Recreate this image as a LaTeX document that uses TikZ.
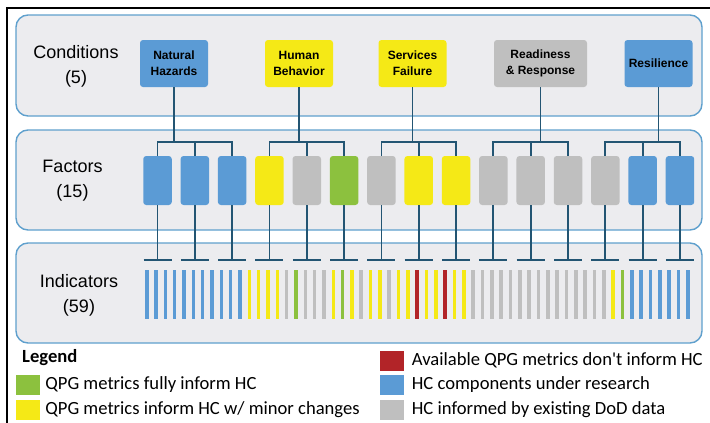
\documentclass[tikz,border=0pt]{standalone}
\usepackage{fontspec}
\setmainfont{Liberation Sans}
\newfontfamily\legendfont{Carlito}
\usetikzlibrary{positioning}

\definecolor{hcblue}{RGB}{91,155,213}
\definecolor{hcyellow}{RGB}{245,233,22}
\definecolor{hcgray}{RGB}{191,191,191}
\definecolor{hcgreen}{RGB}{140,193,62}
\definecolor{hcred}{RGB}{178,36,40}
\definecolor{panelfill}{RGB}{236,236,239}
\definecolor{panelline}{RGB}{95,160,205}
\definecolor{linkcol}{RGB}{35,85,115}

\tikzset{
  panel/.style={draw=panelline, fill=panelfill, line width=1.4, rounded corners=12},
  rowlabel/.style={align=center, inner sep=0, font=\fontsize{18}{25}\selectfont},
  condbox/.style={rounded corners=3, minimum width=68, minimum height=47, inner sep=2,
    align=center, font=\bfseries\fontsize{12}{16}\selectfont},
  factorbox/.style={rounded corners=3, minimum width=28.5, minimum height=49, inner sep=0},
  link/.style={draw=linkcol, line width=1.8},
  swatch/.style={minimum width=24, minimum height=20, inner sep=0},
  legendtext/.style={inner sep=0, font=\legendfont\fontsize{18.6}{22}\selectfont}
}

\begin{document}
\begin{tikzpicture}[x=1pt,y=-1pt]
  \useasboundingbox (0,0) rectangle (710,423);
  % Frame
  \draw[line width=1.2] (710,8) -- (7,8) -- (7,423);

  % Panels
  \draw[panel] (16,15) rectangle (702,116);
  \draw[panel] (16,130) rectangle (702,230);
  \draw[panel] (16,243) rectangle (702,343);

  % Row labels
  \node[rowlabel] (condlbl) at (76,66) {Conditions\\(5)};
  \node[rowlabel] (factlbl) at (72.5,180.5) {Factors\\(15)};
  \node[rowlabel] (indlbl) at (79,295) {Indicators\\(59)};

  % Conditions
  \node[condbox, fill=hcblue] (natural) at (174,63.5) {Natural\\Hazards};
  \node[condbox, fill=hcyellow] (human) at (299,63.5) {Human\\Behavior};
  \node[condbox, fill=hcyellow] (services) at (412.5,63.5) {Services\\Failure};
  \node[condbox, fill=hcgray, minimum width=93] (readiness) at (540.5,63.5) {Readiness\\\& Response};
  \node[condbox, fill=hcblue] (resilience) at (658.5,63.5) {Resilience};

  % Factors
  \foreach \col [count=\i] in {hcblue,hcblue,hcblue,hcyellow,hcgray,hcgreen,hcgray,hcyellow,
      hcyellow,hcgray,hcgray,hcgray,hcgray,hcblue,hcblue}
    \node[factorbox, fill=\col] (f\i) at ({157.5+37.32*(\i-1)},180.5) {};

  % Condition -> factor links
  \coordinate (cbus) at (0,142);
  \coordinate (ibus) at (0,260);
  \foreach \c/\a/\m/\b in {natural/1/2/3, human/4/5/6, services/7/8/9,
      readiness/10/11/12, resilience/13/14/15} {
    \draw[link] (\c.south) -- (\c.south |- cbus);
    \draw[link] (f\a.north) -- (f\a.north |- cbus) -- (f\b.north |- cbus) -- (f\b.north);
    \draw[link] (f\m.north |- cbus) -- (f\m.north);
  }

  % Factor -> indicator links
  \foreach \i in {1,...,15} {
    \draw[link] (f\i.south) -- (f\i.south |- ibus);
    \draw[link] (f\i.south |- ibus) ++(-14,0) -- ++(28,0);
  }

  % Indicators
  \foreach \s/\e/\col in {0/10/hcblue, 11/14/hcyellow, 15/15/hcgray, 16/16/hcgreen,
      17/19/hcgray, 20/20/hcyellow, 21/21/hcgreen, 22/22/hcyellow, 23/23/hcgray,
      24/25/hcyellow, 26/26/hcgray, 27/28/hcyellow, 29/29/hcred, 30/31/hcyellow,
      32/32/hcred, 33/34/hcyellow, 35/49/hcgray, 50/50/hcyellow, 51/51/hcgreen,
      52/58/hcblue}
    \foreach \i in {\s,...,\e}
      \fill[\col] ({144.9+9.33*\i},270) rectangle ++(3.6,49);

  % Legend
  \node[anchor=west, inner sep=0, font=\legendfont\bfseries\fontsize{18.6}{22}\selectfont]
    (legend) at (22,358) {Legend};
  \node[swatch, fill=hcgreen] (swgreen) at (28,385) {};
  \node[swatch, fill=hcyellow] (swyellow) at (28,410) {};
  \node[swatch, fill=hcred] (swred) at (391.5,360.5) {};
  \node[swatch, fill=hcblue] (swblue) at (391.5,385) {};
  \node[swatch, fill=hcgray] (swgray) at (391.5,410) {};
  \node[legendtext, right=5 of swgreen] (txgreen) {QPG metrics fully inform HC};
  \node[legendtext, right=5 of swyellow] (txyellow) {QPG metrics inform HC w/ minor changes};
  \node[legendtext, right=8 of swred] (txred) {Available QPG metrics don't inform HC};
  \node[legendtext, right=8 of swblue] (txblue) {HC components under research};
  \node[legendtext, right=8 of swgray] (txgray) {HC informed by existing DoD data};
\end{tikzpicture}
\end{document}
